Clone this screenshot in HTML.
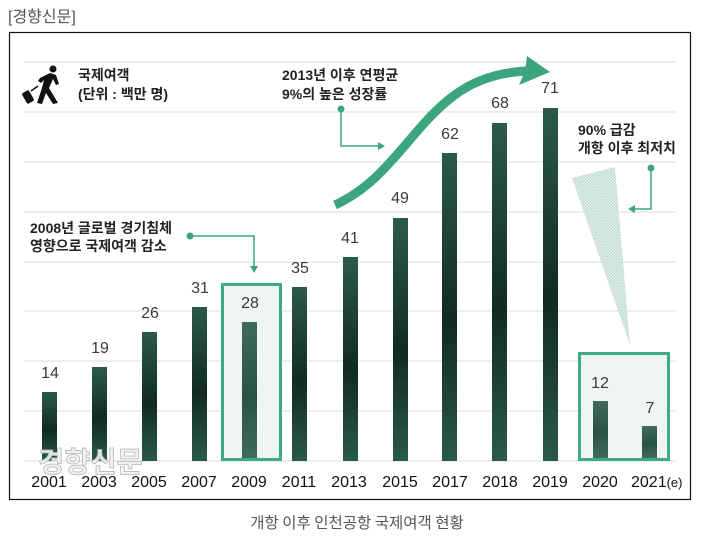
<!DOCTYPE html>
<html><head><meta charset="utf-8">
<style>
html,body{margin:0;padding:0;background:#fff;}
body{width:726px;height:537px;overflow:hidden;position:relative;}
svg{position:absolute;left:0;top:0;}
</style></head>
<body>
<svg width="726" height="537" viewBox="0 0 726 537" xmlns="http://www.w3.org/2000/svg" font-family="'Liberation Sans','Noto Sans CJK KR',sans-serif">
<defs>
<linearGradient id="bg" x1="0" y1="0" x2="0" y2="1">
<stop offset="0" stop-color="#2b5a48"/><stop offset="0.55" stop-color="#112b20"/><stop offset="1" stop-color="#2a5a47"/>
</linearGradient>
<linearGradient id="bl" x1="0" y1="0" x2="0" y2="1">
<stop offset="0" stop-color="#3f6b5a"/><stop offset="0.55" stop-color="#2a5242"/><stop offset="1" stop-color="#3f6b5a"/>
</linearGradient>
<pattern id="hatch" width="3" height="3" patternUnits="userSpaceOnUse">
<rect width="3" height="3" fill="#e4f0ec"/>
<path d="M0,3 L3,0" stroke="#b9d7cc" stroke-width="1"/>
</pattern>
</defs>
<text x="8" y="22" font-size="16" fill="#555">[경향신문]</text>
<rect x="9.5" y="32.5" width="681" height="467" fill="#fff" stroke="#111" stroke-width="1.2"/>
<g stroke="#dcdcdc" stroke-width="1">
<line x1="24" y1="62" x2="676" y2="62"/><line x1="24" y1="112" x2="676" y2="112"/>
<line x1="24" y1="162" x2="676" y2="162"/><line x1="24" y1="212" x2="676" y2="212"/>
<line x1="24" y1="262" x2="676" y2="262"/><line x1="24" y1="311" x2="676" y2="311"/>
<line x1="24" y1="361" x2="676" y2="361"/><line x1="24" y1="411" x2="676" y2="411"/>
<line x1="24" y1="461" x2="676" y2="461"/>
</g>
<!-- boxes -->
<rect x="222.5" y="284.5" width="58" height="175" fill="#eef5f2" stroke="#3dab83" stroke-width="3"/>
<rect x="579.5" y="353.5" width="89" height="106" fill="#eef5f2" stroke="#3dab83" stroke-width="3"/>
<!-- wedge -->
<polygon points="572,178 615,167 630,345" fill="url(#hatch)"/>
<!-- bars -->
<g fill="url(#bg)">
<rect x="42" y="392" width="15" height="69"/>
<rect x="92" y="367" width="15" height="94"/>
<rect x="142" y="332" width="15" height="129"/>
<rect x="192" y="307" width="15" height="154"/>
<rect x="292" y="287" width="15" height="174"/>
<rect x="343" y="257" width="15" height="204"/>
<rect x="393" y="218" width="15" height="243"/>
<rect x="442" y="153" width="15" height="308"/>
<rect x="492" y="123" width="15" height="338"/>
<rect x="543" y="108" width="15" height="353"/>
</g>
<g fill="url(#bl)">
<rect x="242" y="322" width="15" height="136"/>
<rect x="593" y="401" width="15" height="57"/>
<rect x="642" y="426" width="15" height="32"/>
</g>
<!-- value labels -->
<g font-size="16" fill="#3a3a3a" text-anchor="middle">
<text x="50" y="378">14</text><text x="100" y="353">19</text><text x="150" y="318">26</text>
<text x="200" y="293">31</text><text x="250" y="308">28</text><text x="300" y="273">35</text>
<text x="350" y="243">41</text><text x="400" y="203">49</text><text x="450" y="139">62</text>
<text x="500" y="108">68</text><text x="550" y="93">71</text><text x="600" y="388">12</text>
<text x="650" y="413">7</text>
</g>
<!-- watermark -->
<text x="38" y="472" font-size="28.5" font-weight="bold" fill="#f0f0f0" fill-opacity="0.92" stroke="#b8b8b8" stroke-width="0.8" font-family="'Noto Sans CJK KR',sans-serif">경향신문</text>
<!-- year labels -->
<g font-size="16" fill="#111" text-anchor="middle">
<text x="49" y="487">2001</text><text x="99" y="487">2003</text><text x="149" y="487">2005</text>
<text x="199" y="487">2007</text><text x="249" y="487">2009</text><text x="299" y="487">2011</text>
<text x="349" y="487">2013</text><text x="400" y="487">2015</text><text x="450" y="487">2017</text>
<text x="500" y="487">2018</text><text x="550" y="487">2019</text><text x="600" y="487">2020</text>
</g>
<text x="631" y="487" font-size="16" fill="#111">2021<tspan font-size="13">(e)</tspan></text>
<!-- big arrow -->
<path d="M335,205 C372,188 392,160 420,128 C448,96 475,74 526,71" fill="none" stroke="#3ba67e" stroke-width="9"/>
<polygon points="527,56 550,72 519,85 525,71" fill="#3ba67e"/>
<!-- icon -->
<g fill="#111">
<circle cx="53" cy="69" r="3.5"/>
<path d="M40,78 L50,73 L56,75 L59,84 L56,85 L53,79 L49,88 L58,103 L53,104 L46,93 L42,104 L37,103 L42,88 L44,80 L41,83 L38,81 Z"/>
<rect x="24" y="91" width="8" height="12" rx="1.5" transform="rotate(-30 28 97)"/>
<line x1="31" y1="91" x2="38" y2="86" stroke="#111" stroke-width="1.5"/>
</g>
<g font-size="14" fill="#222" font-weight="bold" font-family="'Liberation Sans','Noto Sans CJK KR',sans-serif">
<text x="78" y="80">국제여객</text>
<text x="78" y="99">(단위 : 백만 명)</text>
<text x="282" y="80">2013년 이후 연평균</text>
<text x="282" y="99">9%의 높은 성장률</text>
<text x="30" y="233">2008년 글로벌 경기침체</text>
<text x="30" y="251">영향으로 국제여객 감소</text>
<text x="578" y="135">90% 급감</text>
<text x="578" y="153">개항 이후 최저치</text>
</g>
<!-- annotation leaders -->
<g stroke="#3ba67e" stroke-width="1.5" fill="none">
<polyline points="341,109 341,146 379,146"/>
<polyline points="190,236 254,236 254,267"/>
<polyline points="651,168 651,209 634,209"/>
</g>
<g fill="#3ba67e">
<circle cx="341" cy="109" r="3.5"/><polygon points="378,142 385,146 378,150"/>
<circle cx="190" cy="236" r="3.5"/><polygon points="250,266 258,266 254,273"/>
<circle cx="651" cy="168" r="3.5"/><polygon points="635,205 628,209 635,213"/>
</g>
<text x="357" y="528" font-size="15.5" fill="#555" text-anchor="middle" font-family="'Noto Sans CJK KR',sans-serif">개항 이후 인천공항 국제여객 현황</text>
</svg>
</body></html>
